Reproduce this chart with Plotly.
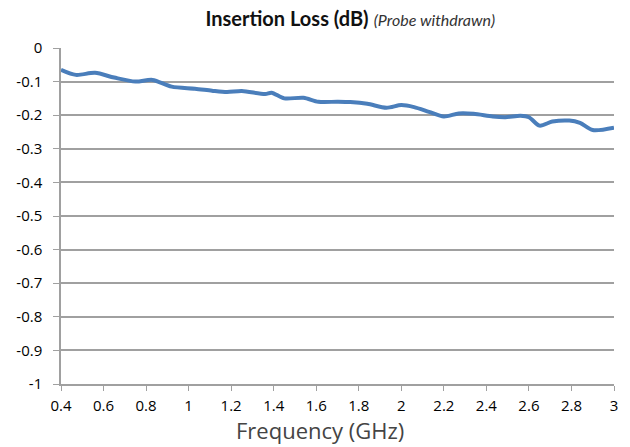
import plotly.graph_objects as go

freq_ghz = [0.40, 0.47, 0.56, 0.65, 0.75, 0.83, 0.92, 1.03, 1.11, 1.18, 1.25, 1.36, 1.39,
            1.45, 1.54, 1.61, 1.70, 1.76, 1.84, 1.93, 2.00, 2.06, 2.13, 2.20, 2.27, 2.34,
            2.43, 2.49, 2.56, 2.60, 2.65, 2.71, 2.79, 2.84, 2.90, 3.00]
loss_db = [-0.065, -0.080, -0.074, -0.088, -0.100, -0.095, -0.115, -0.121, -0.127, -0.131,
           -0.128, -0.137, -0.133, -0.150, -0.148, -0.160, -0.160, -0.161, -0.166, -0.178,
           -0.170, -0.176, -0.190, -0.204, -0.195, -0.196, -0.204, -0.206, -0.202, -0.206,
           -0.231, -0.219, -0.216, -0.223, -0.244, -0.237]

x_ticks = [0.4, 0.6, 0.8, 1.0, 1.2, 1.4, 1.6, 1.8, 2.0, 2.2, 2.4, 2.6, 2.8, 3.0]
x_ticktext = ["0.4", "0.6", "0.8", "1", "1.2", "1.4", "1.6", "1.8", "2", "2.2", "2.4", "2.6", "2.8", "3"]
y_ticks = [0, -0.1, -0.2, -0.3, -0.4, -0.5, -0.6, -0.7, -0.8, -0.9, -1.0]
y_ticktext = ["0", "-0.1", "-0.2", "-0.3", "-0.4", "-0.5", "-0.6", "-0.7", "-0.8", "-0.9", "-1"]

fig = go.Figure()
fig.add_trace(go.Scatter(
    x=freq_ghz, y=loss_db, mode="lines",
    line=dict(color="#4A7EBB", width=4, shape="spline", smoothing=0.8),
    showlegend=False,
))

fig.update_layout(
    width=630, height=447,
    margin=dict(l=61, r=14, t=48, b=63),
    paper_bgcolor="white", plot_bgcolor="white",
    font=dict(family="Open Sans, sans-serif", color="#000000", size=15),
    title=dict(
        text="<b>Insertion Loss (dB)</b> <i><span style='font-size:16px;font-weight:normal;fill:#333333'>(Probe withdrawn)</span></i>",
        x=0.556, xref="container", xanchor="center", y=0.958, yanchor="middle",
        font=dict(family="Lato, sans-serif", size=20, color="#111111"),
    ),
    xaxis=dict(
        range=[0.4, 3.0], tickvals=x_ticks, ticktext=x_ticktext,
        showgrid=False, zeroline=False,
        showline=True, linecolor="#A0A0A0", linewidth=1.5,
        ticks="outside", ticklen=5, tickcolor="#A0A0A0",
        tickfont=dict(size=15), ticklabelstandoff=2,
    ),
    yaxis=dict(
        range=[-1.0, 0.0], tickvals=y_ticks, ticktext=y_ticktext,
        showgrid=True, gridcolor="#A0A0A0", gridwidth=1.5, zeroline=False,
        showline=True, linecolor="#A0A0A0", linewidth=1.5,
        ticks="outside", ticklen=6, tickcolor="#A0A0A0",
        tickfont=dict(size=15), ticklabelstandoff=8,
    ),
    annotations=[dict(
        text="Frequency (GHz)", xref="paper", yref="paper",
        x=0.4685, y=-0.138, xanchor="center", yanchor="middle",
        showarrow=False, font=dict(size=22, color="#444444"),
    )],
)

fig.write_html(
    "out.html",
    config={"displayModeBar": False},
    post_script="document.body.style.margin='0';document.body.style.padding='0';",
)
